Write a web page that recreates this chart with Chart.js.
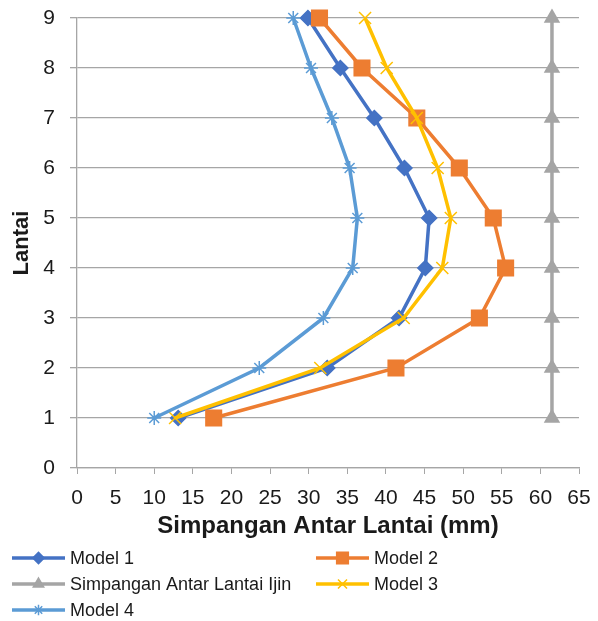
<!DOCTYPE html>
<html>
<head>
<meta charset="utf-8">
<script src="https://cdn.jsdelivr.net/npm/chart.js@4.4.1/dist/chart.umd.min.js"></script>
<style>
    html, body { margin: 0; padding: 0; background: #fff; }
</style>
</head>
<body>
<canvas id="myChart" width="598" height="621"></canvas>
<script>
let floors = [1, 2, 3, 4, 5, 6, 7, 8, 9]
let model1 = [13.1, 32.4, 41.7, 45.1, 45.6, 42.4, 38.5, 34.1, 29.9]
let model2 = [17.7, 41.3, 52.1, 55.5, 53.9, 49.5, 44.0, 36.9, 31.4]
let ijin = [61.5, 61.5, 61.5, 61.5, 61.5, 61.5, 61.5, 61.5, 61.5]
let model3 = [12.7, 31.5, 42.3, 47.3, 48.4, 46.7, 44.0, 40.1, 37.3]
let model4 = [10.0, 23.6, 31.9, 35.7, 36.3, 35.3, 33.0, 30.3, 28.0]

let seriesNames = ['Model 1', 'Model 2', 'Simpangan Antar Lantai Ijin', 'Model 3', 'Model 4']
let colorHex = ['#4472C4', '#ED7D31', '#A5A5A5', '#FFC000', '#5B9BD5']
let markers = ['rectRot', 'rect', 'triangle', 'crossRot', 'star']
let markerSize = [7.5, 11, 8, 8.5, 7]

let values = [model1, model2, ijin, model3, model4]
let toPoints = (xs) => xs.map((x, i) => ({ x: x, y: floors[i] }))

let datasets = values.map((vals, i) => ({
    label: seriesNames[i],
    data: toPoints(vals),
    showLine: true,
    clip: false,
    borderColor: colorHex[i],
    backgroundColor: colorHex[i],
    pointBackgroundColor: colorHex[i],
    pointBorderColor: colorHex[i],
    borderWidth: 3.5,
    pointStyle: markers[i],
    pointRadius: markerSize[i],
    pointBorderWidth: 1.5,
    order: 5 - i,
}))

// legend in two columns like the original
let legendSlots = [[12, 558], [316, 558], [12, 584], [316, 584], [12, 610]]
const twoColLegend = {
    id: 'twoColLegend',
    afterDraw(chart) {
        let ctx = chart.ctx
        chart.data.datasets.forEach((ds, i) => {
            let [x, y] = legendSlots[i]
            ctx.save()
            ctx.strokeStyle = ds.borderColor
            ctx.lineWidth = 3.5
            ctx.beginPath()
            ctx.moveTo(x, y)
            ctx.lineTo(x + 53, y)
            ctx.stroke()
            ctx.fillStyle = ds.pointBackgroundColor
            ctx.lineWidth = 1.5
            Chart.helpers.drawPoint(ctx, {
                pointStyle: ds.pointStyle,
                radius: ds.pointRadius * 0.75,
                borderWidth: 1.5,
                rotation: 0,
            }, x + 26.5, y)
            ctx.fillStyle = '#1a1a1a'
            ctx.font = '18px "Liberation Sans", Arial, sans-serif'
            ctx.textBaseline = 'middle'
            ctx.textAlign = 'left'
            ctx.fillText(ds.label, x + 58, y + 1)
            ctx.restore()
        })
    },
}

let ctx = document.getElementById('myChart').getContext('2d')
let myChart = new Chart(ctx, {
    type: 'scatter',
    data: { datasets: datasets },
    options: {
        responsive: false,
        animation: false,
        layout: {
            autoPadding: false,
            padding: { left: 0, top: 18, right: 19, bottom: 70 },
        },
        plugins: {
            legend: { display: false },
            tooltip: { enabled: false },
        },
        scales: {
            x: {
                type: 'linear',
                min: 0,
                max: 65,
                afterFit: (scale) => {
                    scale.height = 83
                    scale.paddingLeft = 0
                    scale.paddingRight = 0
                },
                ticks: {
                    stepSize: 5,
                    color: '#1a1a1a',
                    padding: 12,
                    font: { family: '"Liberation Sans", Arial, sans-serif', size: 21 },
                },
                grid: {
                    drawOnChartArea: false,
                    drawTicks: true,
                    tickLength: 6,
                    color: '#A6A6A6',
                },
                border: { color: '#A6A6A6', width: 1.3 },
                title: {
                    display: true,
                    text: 'Simpangan Antar Lantai (mm)',
                    color: '#1a1a1a',
                    padding: { top: 0, bottom: 10 },
                    font: { family: '"Liberation Sans", Arial, sans-serif', size: 24, weight: 'bold' },
                },
            },
            y: {
                type: 'linear',
                min: 0,
                max: 9,
                afterFit: (scale) => {
                    scale.width = 77
                    scale.paddingTop = 0
                    scale.paddingBottom = 0
                },
                ticks: {
                    stepSize: 1,
                    color: '#1a1a1a',
                    padding: 15,
                    font: { family: '"Liberation Sans", Arial, sans-serif', size: 21 },
                },
                grid: {
                    color: '#A6A6A6',
                    lineWidth: 1.3,
                    tickLength: 7,
                },
                border: { color: '#A6A6A6', width: 1.3 },
                title: {
                    display: true,
                    text: 'Lantai',
                    color: '#1a1a1a',
                    padding: { top: 9, bottom: 0 },
                    font: { family: '"Liberation Sans", Arial, sans-serif', size: 22, weight: 'bold' },
                },
            },
        },
    },
    plugins: [twoColLegend],
})
</script>
</body>
</html>
